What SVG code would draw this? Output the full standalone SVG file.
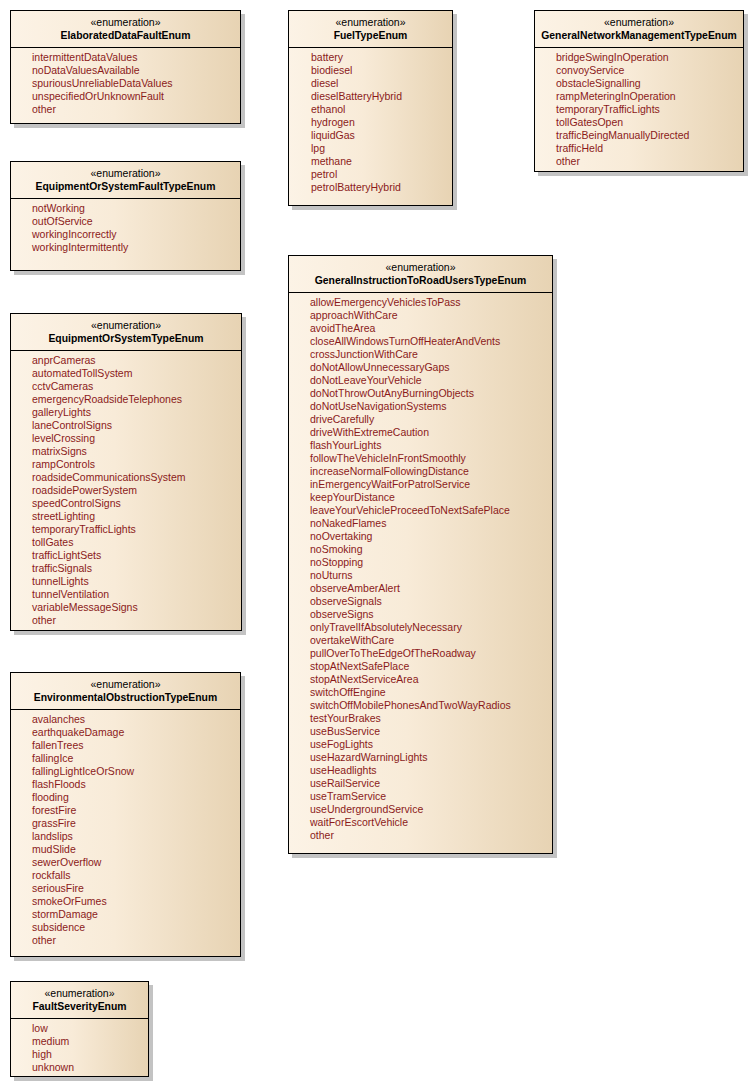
<svg xmlns="http://www.w3.org/2000/svg" width="755" height="1088" viewBox="0 0 755 1088">
<defs>
<linearGradient id="g" x1="0" y1="0" x2="1" y2="0">
<stop offset="0" stop-color="#fcf3e6"/>
<stop offset="0.45" stop-color="#f8ebd8"/>
<stop offset="1" stop-color="#e7d3b3"/>
</linearGradient>
<style>
.sh{fill:#c3c3c3}
.bx{fill:url(#g);stroke:#000;stroke-width:1}
.sep{stroke:#000;stroke-width:1}
.st{font-family:"Liberation Sans",Arial,sans-serif;font-size:10.5px;fill:#000;text-anchor:middle}
.nm{font-family:"Liberation Sans",Arial,sans-serif;font-size:10.4px;font-weight:bold;fill:#000;text-anchor:middle}
.it{font-family:"Liberation Sans",Arial,sans-serif;font-size:10.5px;fill:#8b1a1a}
</style>
</defs>
<rect width="755" height="1088" fill="#fff"/>

<g id="ElaboratedDataFaultEnum">
<rect class="sh" x="14" y="14" width="231" height="114"/>
<rect class="bx" x="10.5" y="10.5" width="230" height="113"/>
<line class="sep" x1="10.5" y1="47.5" x2="240.5" y2="47.5"/>
<text class="st" x="125.5" y="25.5">«enumeration»</text>
<text class="nm" x="125.5" y="39">ElaboratedDataFaultEnum</text>
<text class="it" x="32" y="61">intermittentDataValues</text>
<text class="it" x="32" y="74">noDataValuesAvailable</text>
<text class="it" x="32" y="87">spuriousUnreliableDataValues</text>
<text class="it" x="32" y="100">unspecifiedOrUnknownFault</text>
<text class="it" x="32" y="113">other</text>
</g>

<g id="FuelTypeEnum">
<rect class="sh" x="292" y="14" width="165" height="196"/>
<rect class="bx" x="288.5" y="10.5" width="164" height="195"/>
<line class="sep" x1="288.5" y1="47.5" x2="452.5" y2="47.5"/>
<text class="st" x="370.5" y="25.5">«enumeration»</text>
<text class="nm" x="370.5" y="39">FuelTypeEnum</text>
<text class="it" x="311" y="61">battery</text>
<text class="it" x="311" y="74">biodiesel</text>
<text class="it" x="311" y="87">diesel</text>
<text class="it" x="311" y="100">dieselBatteryHybrid</text>
<text class="it" x="311" y="113">ethanol</text>
<text class="it" x="311" y="126">hydrogen</text>
<text class="it" x="311" y="139">liquidGas</text>
<text class="it" x="311" y="152">lpg</text>
<text class="it" x="311" y="165">methane</text>
<text class="it" x="311" y="178">petrol</text>
<text class="it" x="311" y="191">petrolBatteryHybrid</text>
</g>

<g id="GeneralNetworkManagementTypeEnum">
<rect class="sh" x="538" y="14" width="210" height="162"/>
<rect class="bx" x="534.5" y="10.5" width="209" height="161"/>
<line class="sep" x1="534.5" y1="47.5" x2="743.5" y2="47.5"/>
<text class="st" x="639" y="25.5">«enumeration»</text>
<text class="nm" x="639" y="39">GeneralNetworkManagementTypeEnum</text>
<text class="it" x="556" y="61">bridgeSwingInOperation</text>
<text class="it" x="556" y="74">convoyService</text>
<text class="it" x="556" y="87">obstacleSignalling</text>
<text class="it" x="556" y="100">rampMeteringInOperation</text>
<text class="it" x="556" y="113">temporaryTrafficLights</text>
<text class="it" x="556" y="126">tollGatesOpen</text>
<text class="it" x="556" y="139">trafficBeingManuallyDirected</text>
<text class="it" x="556" y="152">trafficHeld</text>
<text class="it" x="556" y="165">other</text>
</g>

<g id="EquipmentOrSystemFaultTypeEnum">
<rect class="sh" x="14" y="165" width="231" height="110"/>
<rect class="bx" x="10.5" y="161.5" width="230" height="109"/>
<line class="sep" x1="10.5" y1="198.5" x2="240.5" y2="198.5"/>
<text class="st" x="125.5" y="176.5">«enumeration»</text>
<text class="nm" x="125.5" y="190">EquipmentOrSystemFaultTypeEnum</text>
<text class="it" x="32" y="212">notWorking</text>
<text class="it" x="32" y="225">outOfService</text>
<text class="it" x="32" y="238">workingIncorrectly</text>
<text class="it" x="32" y="251">workingIntermittently</text>
</g>

<g id="EquipmentOrSystemTypeEnum">
<rect class="sh" x="14" y="317" width="232" height="318"/>
<rect class="bx" x="10.5" y="313.5" width="231" height="317"/>
<line class="sep" x1="10.5" y1="350.5" x2="241.5" y2="350.5"/>
<text class="st" x="126" y="328.5">«enumeration»</text>
<text class="nm" x="126" y="342">EquipmentOrSystemTypeEnum</text>
<text class="it" x="32" y="364">anprCameras</text>
<text class="it" x="32" y="377">automatedTollSystem</text>
<text class="it" x="32" y="390">cctvCameras</text>
<text class="it" x="32" y="403">emergencyRoadsideTelephones</text>
<text class="it" x="32" y="416">galleryLights</text>
<text class="it" x="32" y="429">laneControlSigns</text>
<text class="it" x="32" y="442">levelCrossing</text>
<text class="it" x="32" y="455">matrixSigns</text>
<text class="it" x="32" y="468">rampControls</text>
<text class="it" x="32" y="481">roadsideCommunicationsSystem</text>
<text class="it" x="32" y="494">roadsidePowerSystem</text>
<text class="it" x="32" y="507">speedControlSigns</text>
<text class="it" x="32" y="520">streetLighting</text>
<text class="it" x="32" y="533">temporaryTrafficLights</text>
<text class="it" x="32" y="546">tollGates</text>
<text class="it" x="32" y="559">trafficLightSets</text>
<text class="it" x="32" y="572">trafficSignals</text>
<text class="it" x="32" y="585">tunnelLights</text>
<text class="it" x="32" y="598">tunnelVentilation</text>
<text class="it" x="32" y="611">variableMessageSigns</text>
<text class="it" x="32" y="624">other</text>
</g>

<g id="EnvironmentalObstructionTypeEnum">
<rect class="sh" x="14" y="676" width="231" height="285"/>
<rect class="bx" x="10.5" y="672.5" width="230" height="284"/>
<line class="sep" x1="10.5" y1="709.5" x2="240.5" y2="709.5"/>
<text class="st" x="125.5" y="687.5">«enumeration»</text>
<text class="nm" x="125.5" y="701">EnvironmentalObstructionTypeEnum</text>
<text class="it" x="32" y="723">avalanches</text>
<text class="it" x="32" y="736">earthquakeDamage</text>
<text class="it" x="32" y="749">fallenTrees</text>
<text class="it" x="32" y="762">fallingIce</text>
<text class="it" x="32" y="775">fallingLightIceOrSnow</text>
<text class="it" x="32" y="788">flashFloods</text>
<text class="it" x="32" y="801">flooding</text>
<text class="it" x="32" y="814">forestFire</text>
<text class="it" x="32" y="827">grassFire</text>
<text class="it" x="32" y="840">landslips</text>
<text class="it" x="32" y="853">mudSlide</text>
<text class="it" x="32" y="866">sewerOverflow</text>
<text class="it" x="32" y="879">rockfalls</text>
<text class="it" x="32" y="892">seriousFire</text>
<text class="it" x="32" y="905">smokeOrFumes</text>
<text class="it" x="32" y="918">stormDamage</text>
<text class="it" x="32" y="931">subsidence</text>
<text class="it" x="32" y="944">other</text>
</g>

<g id="FaultSeverityEnum">
<rect class="sh" x="14" y="985" width="139" height="96"/>
<rect class="bx" x="10.5" y="981.5" width="138" height="95"/>
<line class="sep" x1="10.5" y1="1018.5" x2="148.5" y2="1018.5"/>
<text class="st" x="79.5" y="996.5">«enumeration»</text>
<text class="nm" x="79.5" y="1010">FaultSeverityEnum</text>
<text class="it" x="32" y="1032">low</text>
<text class="it" x="32" y="1045">medium</text>
<text class="it" x="32" y="1058">high</text>
<text class="it" x="32" y="1071">unknown</text>
</g>

<g id="GeneralInstructionToRoadUsersTypeEnum">
<rect class="sh" x="292" y="259" width="265" height="599"/>
<rect class="bx" x="288.5" y="255.5" width="264" height="598"/>
<line class="sep" x1="288.5" y1="292.5" x2="552.5" y2="292.5"/>
<text class="st" x="420.5" y="270.5">«enumeration»</text>
<text class="nm" x="420.5" y="284">GeneralInstructionToRoadUsersTypeEnum</text>
<text class="it" x="310" y="306">allowEmergencyVehiclesToPass</text>
<text class="it" x="310" y="319">approachWithCare</text>
<text class="it" x="310" y="332">avoidTheArea</text>
<text class="it" x="310" y="345">closeAllWindowsTurnOffHeaterAndVents</text>
<text class="it" x="310" y="358">crossJunctionWithCare</text>
<text class="it" x="310" y="371">doNotAllowUnnecessaryGaps</text>
<text class="it" x="310" y="384">doNotLeaveYourVehicle</text>
<text class="it" x="310" y="397">doNotThrowOutAnyBurningObjects</text>
<text class="it" x="310" y="410">doNotUseNavigationSystems</text>
<text class="it" x="310" y="423">driveCarefully</text>
<text class="it" x="310" y="436">driveWithExtremeCaution</text>
<text class="it" x="310" y="449">flashYourLights</text>
<text class="it" x="310" y="462">followTheVehicleInFrontSmoothly</text>
<text class="it" x="310" y="475">increaseNormalFollowingDistance</text>
<text class="it" x="310" y="488">inEmergencyWaitForPatrolService</text>
<text class="it" x="310" y="501">keepYourDistance</text>
<text class="it" x="310" y="514">leaveYourVehicleProceedToNextSafePlace</text>
<text class="it" x="310" y="527">noNakedFlames</text>
<text class="it" x="310" y="540">noOvertaking</text>
<text class="it" x="310" y="553">noSmoking</text>
<text class="it" x="310" y="566">noStopping</text>
<text class="it" x="310" y="579">noUturns</text>
<text class="it" x="310" y="592">observeAmberAlert</text>
<text class="it" x="310" y="605">observeSignals</text>
<text class="it" x="310" y="618">observeSigns</text>
<text class="it" x="310" y="631">onlyTravelIfAbsolutelyNecessary</text>
<text class="it" x="310" y="644">overtakeWithCare</text>
<text class="it" x="310" y="657">pullOverToTheEdgeOfTheRoadway</text>
<text class="it" x="310" y="670">stopAtNextSafePlace</text>
<text class="it" x="310" y="683">stopAtNextServiceArea</text>
<text class="it" x="310" y="696">switchOffEngine</text>
<text class="it" x="310" y="709">switchOffMobilePhonesAndTwoWayRadios</text>
<text class="it" x="310" y="722">testYourBrakes</text>
<text class="it" x="310" y="735">useBusService</text>
<text class="it" x="310" y="748">useFogLights</text>
<text class="it" x="310" y="761">useHazardWarningLights</text>
<text class="it" x="310" y="774">useHeadlights</text>
<text class="it" x="310" y="787">useRailService</text>
<text class="it" x="310" y="800">useTramService</text>
<text class="it" x="310" y="813">useUndergroundService</text>
<text class="it" x="310" y="826">waitForEscortVehicle</text>
<text class="it" x="310" y="839">other</text>
</g>

<g id="connectors"/>
</svg>
